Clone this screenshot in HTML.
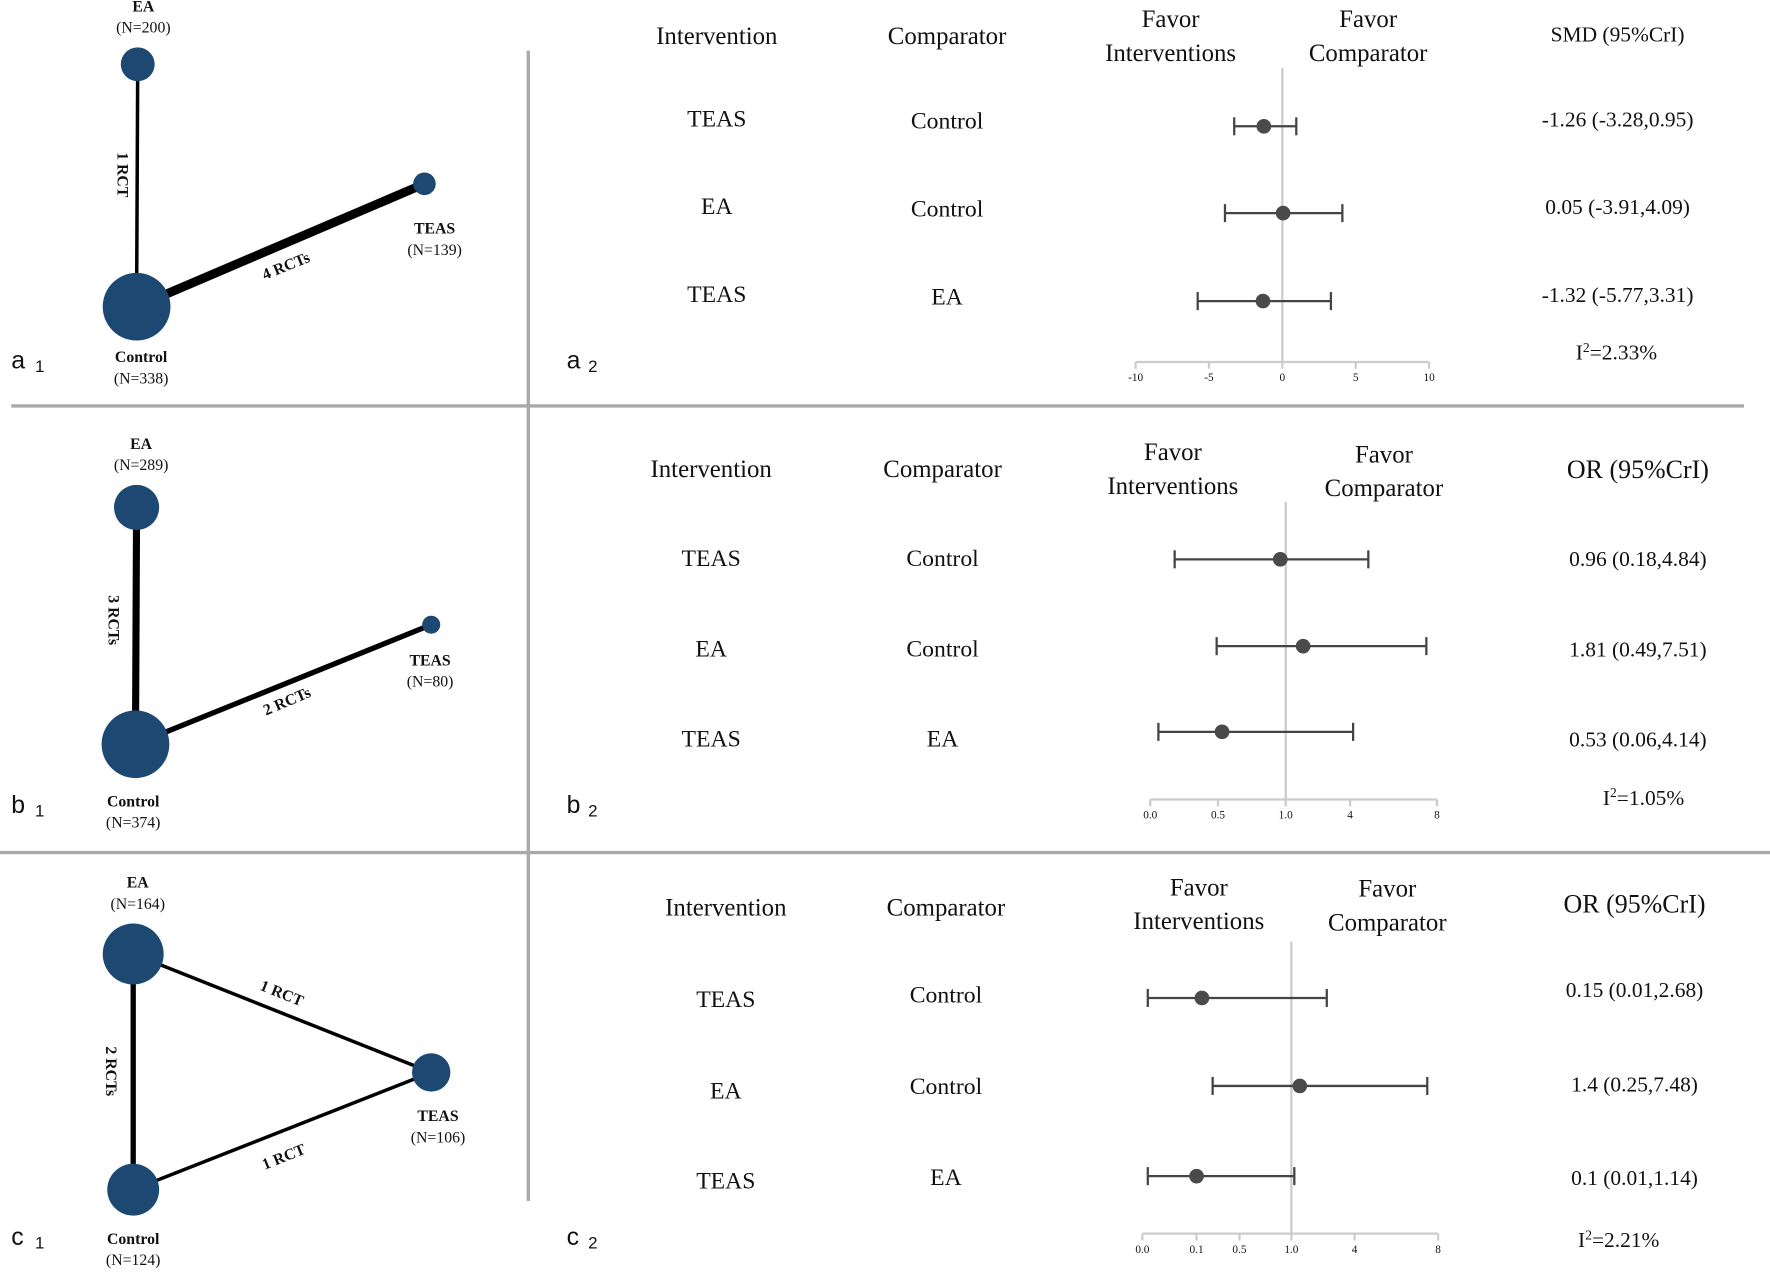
<!DOCTYPE html>
<html><head><meta charset="utf-8">
<style>
html,body{margin:0;padding:0;background:#fff;}
svg{display:block;}
text{font-family:"Liberation Serif",serif;fill:#111;}
.sans{font-family:"Liberation Sans",sans-serif;}
</style></head>
<body>
<svg id="fig" width="1770" height="1272" viewBox="0 0 1568 1128" preserveAspectRatio="none" xmlns="http://www.w3.org/2000/svg">
  <g stroke="#aaa" stroke-width="3">
    <line x1="468" y1="45" x2="468" y2="1065"/>
    <line x1="10" y1="360" x2="1545" y2="360"/>
    <line x1="0" y1="756" x2="1568" y2="756"/>
  </g>
  <g id="networks"></g>
  <g id="forests"></g>
</svg>
<script>
// ---- Forest plot data ----
const rowLabelsInt = ["TEAS","EA","TEAS"];
const rowLabelsComp = ["Control","Control","EA"];
const aEst = [-1.26, 0.05, -1.32];
const aLow = [-3.28, -3.91, -5.77];
const aHigh = [0.95, 4.09, 3.31];
const aText = ["-1.26 (-3.28,0.95)","0.05 (-3.91,4.09)","-1.32 (-5.77,3.31)"];
const aTicks = [-10,-5,0,5,10];
const bEst = [0.96, 1.81, 0.53];
const bLow = [0.18, 0.49, 0.06];
const bHigh = [4.84, 7.51, 4.14];
const bText = ["0.96 (0.18,4.84)","1.81 (0.49,7.51)","0.53 (0.06,4.14)"];
const bTicks = [0,0.5,1,4,8];
const bTickLabels = ["0.0","0.5","1.0","4","8"];
const cEst = [0.15, 1.4, 0.1];
const cLow = [0.01, 0.25, 0.01];
const cHigh = [2.68, 7.48, 1.14];
const cText = ["0.15 (0.01,2.68)","1.4 (0.25,7.48)","0.1 (0.01,1.14)"];
const cTicks = [0,0.1,0.5,1,4,8];
const cTickLabels = ["0.0","0.1","0.5","1.0","4","8"];
// ---- Network data ----
const aNodes = ["EA","Control","TEAS"];
const aN = [200,338,139];
const aEdges = [["EA","Control",1],["Control","TEAS",4]];
const bNodes = ["EA","Control","TEAS"];
const bN = [289,374,80];
const bEdges = [["EA","Control",3],["Control","TEAS",2]];
const cNodes = ["EA","Control","TEAS"];
const cN = [164,124,106];
const cEdges = [["EA","Control",2],["EA","TEAS",1],["Control","TEAS",1]];

const NS="http://www.w3.org/2000/svg";
function mk(tag,attrs,parent,txt){const e=document.createElementNS(NS,tag);for(const k in attrs)e.setAttribute(k,attrs[k]);if(txt!==undefined)e.textContent=txt;parent.appendChild(e);return e;}
const forests=document.getElementById('forests');
const nets=document.getElementById('networks');

function forest(cfg){
  const g=mk('g',{},forests);
  
  
  let t=mk('text',{x:cfg.colInt,y:cfg.hy,'text-anchor':'middle','font-size':22},g,'Intervention');
  
  t=mk('text',{x:cfg.colComp,y:cfg.hy,'text-anchor':'middle','font-size':22},g,'Comparator');
  
  t=mk('text',{x:cfg.fav1x,y:cfg.fy,'text-anchor':'middle','font-size':22},g,'Favor');
  
  mk('text',{x:cfg.fav1x,y:cfg.fy+30,'text-anchor':'middle','font-size':22},g,'Interventions');
  t=mk('text',{x:cfg.fav2x,y:cfg.fy2,'text-anchor':'middle','font-size':22},g,'Favor');
  
  mk('text',{x:cfg.fav2x,y:cfg.fy2+30,'text-anchor':'middle','font-size':22},g,'Comparator');
  t=mk('text',{x:cfg.effx,y:cfg.ey,'text-anchor':'middle','font-size':cfg.efs},g,cfg.eff);
  
  const xr=cfg.sc(cfg.ref);
  t=mk('line',{x1:xr,y1:cfg.refTop,x2:xr,y2:cfg.axy,stroke:'#ccc','stroke-width':2},g);
  
  const ax=mk('g',{},g);
  
  const tv=cfg.ticks;
  mk('line',{x1:cfg.sc(tv[0]),y1:cfg.axy,x2:cfg.sc(tv[tv.length-1]),y2:cfg.axy,stroke:'#ccc','stroke-width':2},ax);
  tv.forEach((v,i)=>{const x=cfg.sc(v);
    mk('line',{x1:x,y1:cfg.axy,x2:x,y2:cfg.axy+6,stroke:'#ccc','stroke-width':2},ax);
    const l=mk('text',{x:x,y:cfg.axy+17,'text-anchor':'middle','font-size':10},ax,cfg.tickLabels[i]);
    
  });
  cfg.est.forEach((v,i)=>{
    const y=cfg.rows[i];
    const r=mk('g',{},g);
    
    mk('text',{x:cfg.colInt,y:cfg.ty[i],'text-anchor':'middle','font-size':21},r,rowLabelsInt[i]);
    mk('text',{x:cfg.colComp,y:cfg.tcy[i],'text-anchor':'middle','font-size':21},r,rowLabelsComp[i]);
    const x1=cfg.sc(cfg.low[i]),x2=cfg.sc(cfg.high[i]),xc=cfg.sc(v);
    const ci=mk('g',{stroke:'#444','stroke-width':2},r);
    
    mk('line',{x1:x1,y1:y,x2:x2,y2:y},ci);
    mk('line',{x1:x1,y1:y-8,x2:x1,y2:y+8},ci);
    mk('line',{x1:x2,y1:y-8,x2:x2,y2:y+8},ci);
    const d=mk('circle',{cx:xc,cy:y,r:6.5,fill:'#4a4a4a'},r);
    
    const et=mk('text',{x:cfg.effx,y:cfg.vy[i],'text-anchor':'middle','font-size':19},r,cfg.text[i]);
    
  });
  t=mk('text',{x:cfg.i2x,y:cfg.i2y,'text-anchor':'middle','font-size':19},g);
  
  mk('tspan',{},t,'I');mk('tspan',{dy:-7,'font-size':12},t,'2');mk('tspan',{dy:7},t,'='+cfg.i2);
  t=mk('text',{x:502,y:cfg.lbly,'font-size':22,'class':'sans'},g,cfg.id[0]);
  
  mk('text',{x:521,y:cfg.lbly+3,'font-size':15,'class':'sans'},g,'2');
}
function linScale(d0,d1,r0,r1){return v=>r0+(v-d0)/(d1-d0)*(r1-r0);}
function pwScale(vals,poss){return v=>{for(let i=0;i<vals.length-1;i++){if(v<=vals[i+1]||i===vals.length-2){return poss[i]+(v-vals[i])/(vals[i+1]-vals[i])*(poss[i+1]-poss[i]);}}};}

forest({id:'a2',sc:linScale(-10,10,1006,1266),ref:0,ticks:aTicks,tickLabels:aTicks.map(String),
  est:aEst,low:aLow,high:aHigh,text:aText,rows:[112,189,267],ty:[112,190,268],tcy:[114,192,270],vy:[112,190,268],
  colInt:635,colComp:839,hy:39,fav1x:1037,fav2x:1212,fy:24,fy2:24,effx:1433,ey:37,eff:'SMD (95%CrI)',efs:19,
  refTop:60,axy:321,i2x:1432,i2y:319,i2:'2.33%',lbly:327});
forest({id:'b2',sc:pwScale(bTicks,[1019,1079,1139,1196,1273]),ref:1,ticks:bTicks,tickLabels:bTickLabels,
  est:bEst,low:bLow,high:bHigh,text:bText,rows:[496,573,649],ty:[502,582,662],tcy:[502,582,662],vy:[502,582,662],
  colInt:630,colComp:835,hy:423,fav1x:1039,fav2x:1226,fy:408,fy2:410,effx:1451,ey:424,eff:'OR (95%CrI)',efs:23,
  refTop:445,axy:709,i2x:1456,i2y:714,i2:'1.05%',lbly:721});
forest({id:'c2',sc:pwScale(cTicks,[1012,1060,1098,1144,1200,1274]),ref:1,ticks:cTicks,tickLabels:cTickLabels,
  est:cEst,low:cLow,high:cHigh,text:cText,rows:[885,963,1043],ty:[893,974,1054],tcy:[889,970,1051],vy:[884,968,1051],
  colInt:643,colComp:838,hy:812,fav1x:1062,fav2x:1229,fy:794,fy2:795,effx:1448,ey:809,eff:'OR (95%CrI)',efs:23,
  refTop:835,axy:1094,i2x:1434,i2y:1106,i2:'2.21%',lbly:1104});

function network(cfg){
  const g=mk('g',{},nets);
  
  const pos={};cfg.nodes.forEach((n,i)=>pos[n]=cfg.pos[i]);
  cfg.edges.forEach((e,k)=>{
    const a=pos[e[0]],b=pos[e[1]];
    const l=mk('line',{x1:a[0],y1:a[1],x2:b[0],y2:b[1],stroke:'#000','stroke-width':1.5+1.6*e[2]},g);
    
    const lp=cfg.elab[k];
    const t=mk('text',{x:lp[0],y:lp[1],'text-anchor':'middle','font-size':14,'font-weight':'bold',transform:`rotate(${lp[2]} ${lp[0]} ${lp[1]})`},g,e[2]+(e[2]>1?' RCTs':' RCT'));
    
  });
  cfg.nodes.forEach((n,i)=>{
    const p=cfg.pos[i];
    const c=mk('circle',{cx:p[0],cy:p[1],r:cfg.radii[i],fill:'#1c4872'},g);
    
    const lp=cfg.lab[i];
    const t=mk('text',{x:lp[0],y:lp[1],'text-anchor':'middle','font-size':14,'font-weight':'bold'},g,n);
    
    mk('text',{x:lp[0],y:lp[1]+19,'text-anchor':'middle','font-size':14},g,'(N='+cfg.N[i]+')');
  });
  const t=mk('text',{x:10,y:cfg.lbly,'font-size':22,'class':'sans'},g,cfg.id[0]);
  
  mk('text',{x:31,y:cfg.lbly+3,'font-size':15,'class':'sans'},g,'1');
}
network({id:'a1',nodes:aNodes,N:aN,edges:aEdges,pos:[[122,57],[121,272],[376,163]],radii:[15,30,10],
  lab:[[127,10],[125,321],[385,207]],elab:[[104,155,90],[255,240,-22]],lbly:327});
network({id:'b1',nodes:bNodes,N:bN,edges:bEdges,pos:[[121,450],[120,660],[382,554]],radii:[20,30,8],
  lab:[[125,398],[118,715],[381,590]],elab:[[96,550,90],[256,626,-23]],lbly:721});
network({id:'c1',nodes:cNodes,N:cN,edges:cEdges,pos:[[118,846],[118,1055],[382,951]],radii:[27,23,17],
  lab:[[122,787],[118,1103],[388,994]],elab:[[94,950,90],[248,885,22],[253,1030,-22]],lbly:1104});
</script>
</body></html>
